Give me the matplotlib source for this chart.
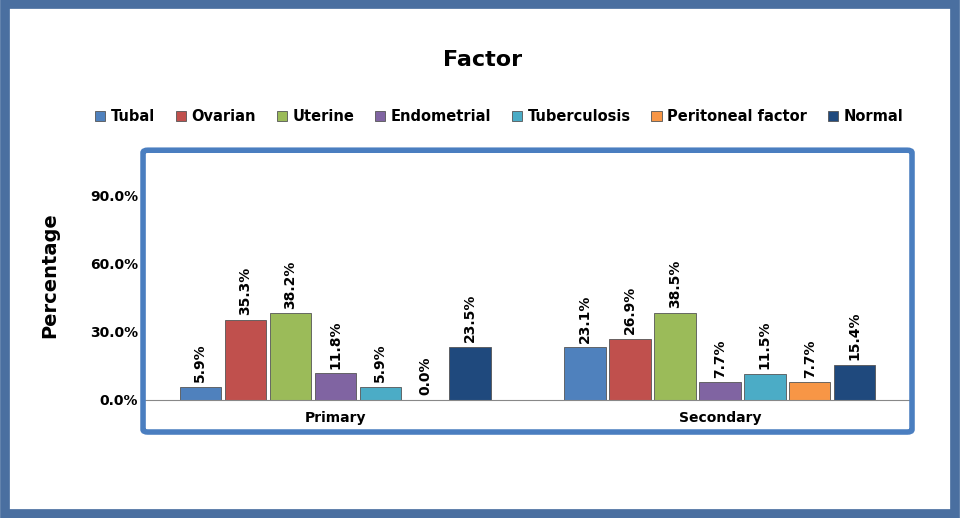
import matplotlib.pyplot as plt
from matplotlib.patches import Rectangle, FancyBboxPatch
import numpy as np

groups = ["Primary", "Secondary"]
series = ["Tubal", "Ovarian", "Uterine", "Endometrial", "Tuberculosis", "Peritoneal factor", "Normal"]
primary = [5.9, 35.3, 38.2, 11.8, 5.9, 0.0, 23.5]
secondary = [23.1, 26.9, 38.5, 7.7, 11.5, 7.7, 15.4]
colors = ["#4F81BD", "#C0504D", "#9BBB59", "#8064A2", "#4BACC6", "#F79646", "#1F497D"]

fig = plt.figure(figsize=(9.6, 5.18), dpi=100)
fig.patches.append(Rectangle((0.005, 0.008), 0.99, 0.984, transform=fig.transFigure,
                             fill=False, edgecolor="#4A6FA0", linewidth=7))
fig.patches.append(FancyBboxPatch((0.149, 0.166), 0.801, 0.544, transform=fig.transFigure,
                                  boxstyle="round,pad=0.0,rounding_size=0.005",
                                  fill=False, edgecolor="#4A7EC0", linewidth=4))

ax = fig.add_axes([0.149, 0.228, 0.801, 0.482])
ax.patch.set_alpha(0)
x = np.arange(len(groups))
w = 0.108
for i, name in enumerate(series):
    vals = [primary[i], secondary[i]]
    pos = x + (i - 3) * 0.117
    bars = ax.bar(pos, vals, w, color=colors[i], edgecolor="#555555", linewidth=0.6, label=name)
    for b, v in zip(bars, vals):
        ax.text(b.get_x() + b.get_width() / 2, v + 2, f"{v:.1f}%", rotation=90,
                ha="center", va="bottom", fontsize=10, fontweight="bold")

ax.set_xlim(-0.5, 1.5)
ax.set_ylim(0, 110)
ax.set_yticks([0, 30, 60, 90])
ax.set_yticklabels(["0.0%", "30.0%", "60.0%", "90.0%"], fontsize=10, fontweight="bold")
ax.set_xticks(x)
ax.set_xticklabels(groups, fontsize=10, fontweight="bold")
ax.tick_params(length=0, axis="x", pad=8)
ax.tick_params(length=0, axis="y")
for s in ["top", "right", "left"]:
    ax.spines[s].set_visible(False)
ax.spines["bottom"].set_color("#888888")
ax.set_ylabel("Percentage", fontsize=14, fontweight="bold", labelpad=22)

fig.text(0.503, 0.885, "Factor", ha="center", va="center", fontsize=16, fontweight="bold")
fig.legend(*ax.get_legend_handles_labels(), loc="center", bbox_to_anchor=(0.52, 0.775),
           ncol=7, frameon=False, handlelength=0.7, handleheight=0.7, handletextpad=0.4,
           columnspacing=1.4, prop={"weight": "bold", "size": 10.5})

fig.savefig("out.png", dpi=100)
